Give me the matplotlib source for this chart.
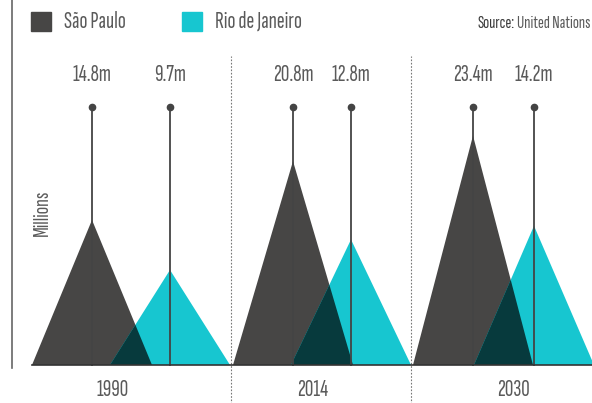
import matplotlib
matplotlib.use("Agg")
import matplotlib.pyplot as plt
from matplotlib.patches import Polygon, Rectangle

# population (millions) per year
years = ["1990", "2014", "2030"]
sao_paulo = [14.8, 20.8, 23.4]
rio = [9.7, 12.8, 14.2]
sp_labels = ["14.8m", "20.8m", "23.4m"]
rio_labels = ["9.7m", "12.8m", "14.2m"]

# layout (x in pixels across the figure)
sp_x = [92, 293, 473]
rio_x = [170, 351, 534]
year_x = [113, 313, 513]
dividers = [231, 411]
half_w = 60

SP_COL = "#474645"
RIO_COL = "#17c6d0"
MIX_COL = "#073a3d"
TXT = "#5a5a5a"

plt.rcParams["font.family"] = ["Sofia Sans Extra Condensed", "Barlow Condensed", "DejaVu Sans"]
plt.rcParams["font.weight"] = "light"

fig = plt.figure(figsize=(5.92, 4.03), dpi=100)
ax = fig.add_axes([0, 0, 1, 1])
ax.set_xlim(0, 592)
ax.set_ylim(-38 / 9.8, 365 / 9.8)
ax.axis("off")

dot_y = 26.3
lab_y = 29.6

for i in range(3):
    s, r = sao_paulo[i], rio[i]
    xs, xr = sp_x[i], rio_x[i]
    ax.add_patch(Polygon([(xs - half_w, 0), (xs, s), (xs + half_w, 0)],
                         closed=True, color=SP_COL, lw=0, zorder=2))
    ax.add_patch(Polygon([(xr - half_w, 0), (xr, r), (xr + half_w, 0)],
                         closed=True, color=RIO_COL, lw=0, zorder=2))
    # overlap: SP right edge meets Rio left edge
    a = xs + half_w
    b = xr - half_w
    xi = (s * a + r * b) / (s + r)
    yi = s * (a - xi) / half_w
    ax.add_patch(Polygon([(b, 0), (xi, yi), (a, 0)],
                         closed=True, color=MIX_COL, lw=0, zorder=3))

    for x, lab in ((xs, sp_labels[i]), (xr, rio_labels[i])):
        ax.plot([x, x], [0, dot_y], color="#444444", lw=1.3, zorder=4)
        ax.plot(x, dot_y, "o", color="#444444", ms=4.5, zorder=5)
        ax.text(x, lab_y, lab, ha="center", va="center", fontsize=17, color=TXT)

    ax.text(year_x[i], -2.6, years[i], ha="center", va="center", fontsize=17, color=TXT)

# baseline
ax.plot([32, 592], [0, 0], color="#333333", lw=1.2, zorder=4)

for d in dividers:
    ax.plot([d, d], [-4, 31.5], color="#777777", lw=0.8, ls=(0, (1.5, 1.5)), zorder=1)

# left axis
ax.plot([12, 12], [-0.3, 40], color="#666666", lw=1.2)
ax.text(42, 15.5, "Millions", rotation=90, ha="center", va="center", fontsize=16, color=TXT)

# legend
fig.patches.append(Rectangle((31, 403 - 31), 20, 19, transform=None, color=SP_COL))
fig.patches.append(Rectangle((182, 403 - 31), 20, 19, transform=None, color=RIO_COL))
fig.text(64 / 592, 1 - 22 / 403, "São Paulo", ha="left", va="center", fontsize=17, color=TXT)
fig.text(215 / 592, 1 - 22 / 403, "Rio de Janeiro", ha="left", va="center", fontsize=17, color=TXT)
fig.text(478 / 592, 1 - 23 / 403, "Source:", ha="left", va="center", fontsize=13,
         color="#3a3a3a", fontweight="heavy")
fig.text(517 / 592, 1 - 23 / 403, "United Nations", ha="left", va="center", fontsize=13,
         color=TXT)

fig.savefig("out.png", dpi=100)
